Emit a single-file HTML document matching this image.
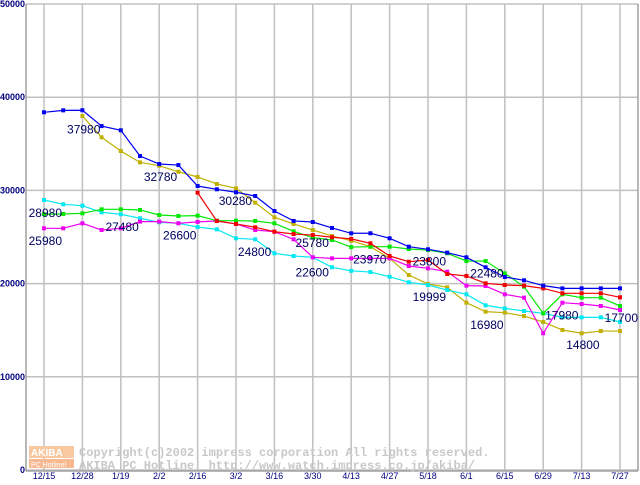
<!DOCTYPE html>
<html><head><meta charset="utf-8"><style>
body{margin:0;background:#fff}
svg text{font-family:"Liberation Sans",sans-serif}
</style></head><body>
<svg id="c" width="640" height="480" xmlns="http://www.w3.org/2000/svg">
<rect x="0" y="0" width="640" height="480" fill="#fff"/>
<g id="grid"></g>
<g id="wm">
<rect x="29" y="446" width="45" height="12" fill="#f8c8a0"/><text x="31" y="456" font-size="10" fill="#fff" font-weight="bold">AKIBA</text>
<rect x="29" y="459" width="45" height="9" fill="#f8b890"/><text x="31" y="467" font-size="7" fill="#fff">PC Hotline!</text>
<text x="79" y="456" font-size="12" fill="#c8c8c8" style="font-family:'Liberation Mono',monospace" font-weight="bold">Copyright(c)2002 impress corporation All rights reserved.</text>
<text x="79" y="469" font-size="12" fill="#c8c8c8" style="font-family:'Liberation Mono',monospace" font-weight="bold">AKIBA PC Hotline!  http://www.watch.impress.co.jp/akiba/</text>
</g>
<g id="series"></g>
<g id="labels"></g>
</svg>
<script>
const xTicks=["12/15","12/28","1/19","2/2","2/16","3/2","3/16","3/30","4/13","4/27","5/18","6/1","6/15","6/29","7/13","7/27"];
const yTicks=[0,10000,20000,30000,40000,50000];
const blue=[38380,38590,38600,36900,36450,33690,32830,32720,30470,30120,29800,29400,27790,26720,26610,25970,25400,25400,24860,23960,23680,23320,22820,21750,20710,20350,19780,19490,19490,19490,19490];
const olive=[null,null,37980,35700,34230,33010,32650,32000,31450,30690,30220,28680,27110,26400,25750,25110,24600,23960,22710,20920,19960,19600,17950,16990,16880,16520,15880,15020,14670,14910,14910];
const cyan=[28970,28510,28360,27650,27440,27010,26580,26470,26070,25820,24860,24750,23250,22960,22820,21750,21370,21240,20740,20140,19850,19310,18850,17670,17340,17060,16810,16380,16380,16380,15880];
const green=[27440,27470,27540,27970,27970,27900,27360,27250,27290,26750,26750,26720,26470,25610,24930,24680,23920,23960,23960,23710,23600,23250,22420,22420,21100,19670,16810,18850,18490,18490,17600];
const red=[null,null,null,null,null,null,null,null,29760,26720,26400,26040,25570,25320,25210,24970,24800,24320,22960,22350,22530,21030,20820,20030,19850,19780,19490,18960,18960,18960,18530];
const magenta=[25930,25930,26470,25750,25930,26650,26650,26470,26620,26720,26400,25750,25570,24750,22820,22710,22710,22710,22710,21890,21640,21280,19780,19740,18850,18490,14670,17950,17810,17600,17170];
const labelText=["37980","28980","25980","27480","32780","26600","30280","24800","25780","22600","23970","23800","19999","22480","16980","17980","14800","17700"];
const labelIdx=[1.2,-0.8,-0.8,3.2,5.2,6.2,9.1,10.1,13.1,13.1,16.1,19.2,19.2,22.2,22.2,26.1,27.2,29.2];
const labelVal=[36100,27150,24150,25650,31000,24750,28450,22950,23940,20750,22130,21950,18150,20650,15150,16130,12970,15870];
const SN="http://www.w3.org/2000/svg";
const X0=44,DX=19.2,Y0=470,YK=0.00932;
const xs=i=>X0+i*DX, ys=v=>Y0-v*YK;
function mk(t,a,p){const e=document.createElementNS(SN,t);for(const k in a)e.setAttribute(k,a[k]);p.appendChild(e);return e;}
const g=document.getElementById('grid');
yTicks.forEach(v=>{const l=mk('line',{x1:26,x2:638,y1:ys(v),y2:ys(v),stroke:'#c0c0c0','stroke-width':1.5},g);


const t=mk('text',{x:25,y:ys(v)+3,'font-size':9,'font-weight':'bold',fill:'#000080','text-anchor':'end'},g);t.textContent=v;

});
xTicks.forEach((s,i)=>{const x=X0+i*2*DX;const l=mk('line',{x1:x,x2:x,y1:4,y2:470,stroke:'#c0c0c0','stroke-width':1.5},g);


const t=mk('text',{x:x,y:479,'font-size':9,fill:'#000080','text-anchor':'middle'},g);t.textContent=s;

});
[[26,4,26,471],[638,4,638,471],[26,471,638,471]].forEach(c=>{const l=mk('line',{x1:c[0],y1:c[1],x2:c[2],y2:c[3],stroke:'#a0a0a0','stroke-width':1.5},g);

});
const sg=document.getElementById('series');
[[olive,'#c0b000','olive-series'],[cyan,'#00e8f0','cyan-series'],[magenta,'#f000f0','magenta-series'],[green,'#00e800','green-series'],[red,'#f00000','red-series'],[blue,'#0000f0','blue-series']].forEach(([d,c,n])=>{
const grp=mk('g',{},sg);


let pts=[];d.forEach((v,i)=>{if(v!=null)pts.push(xs(i)+','+ys(v));});
mk('polyline',{points:pts.join(' '),fill:'none',stroke:c,'stroke-width':1.2},grp);
d.forEach((v,i)=>{if(v==null)return;const r=mk('rect',{x:xs(i)-2,y:ys(v)-2,width:4,height:4,fill:c},grp);

});
});
const lg=document.getElementById('labels');
labelText.forEach((s,i)=>{const t=mk('text',{x:xs(labelIdx[i]),y:ys(labelVal[i]),'font-size':12,fill:'#000060'},lg);t.textContent=s;

});
</script>
</body></html>
